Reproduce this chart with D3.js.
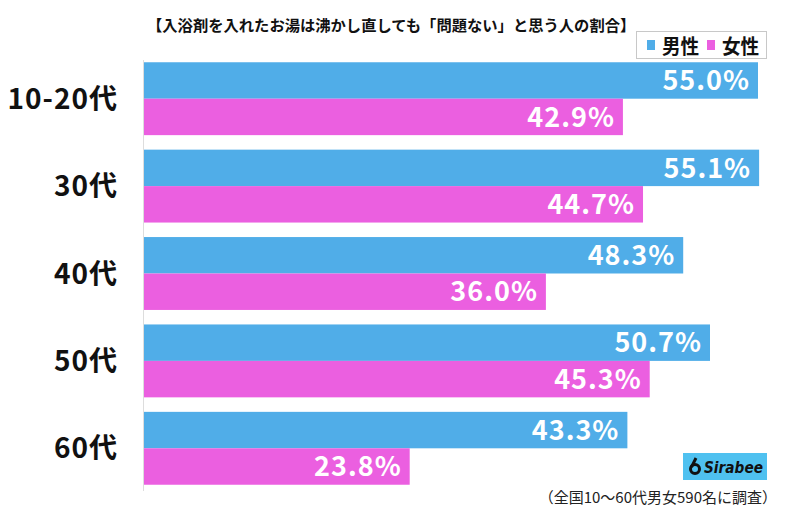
<!DOCTYPE html>
<meta charset="utf-8">
<style>
body { margin: 0; background: #fff; }
text { font-family: "Noto Sans CJK JP", "Noto Sans", sans-serif; }
.cat { font-weight: 700; font-size: 28px; fill: #111; }
.val { font-weight: 700; font-size: 27px; fill: #fff; }
</style>
<body>
<script src="https://cdn.jsdelivr.net/npm/d3@7"></script>
<script>

var width = 798,
    height = 508;

var categories = ["10-20代", "30代", "40代", "50代", "60代"];
var male = [55.0, 55.1, 48.3, 50.7, 43.3];
var female = [42.9, 44.7, 36.0, 45.3, 23.8];
var seriesNames = ["男性", "女性"];
var colors = ["#50ade8", "#eb5fe0"];

var svg = d3.select("body").append("svg")
    .attr("width", width)
    .attr("height", height);

var x = d3.scaleLinear().domain([0, 55]).range([144, 758]);

var y = d3.scaleBand()
    .domain(categories)
    .range([55, 492])
    .paddingInner(0.166)
    .paddingOuter(0.083);

var y1 = d3.scaleBand().domain([0, 1]).range([0, y.bandwidth()]);

// axis line
svg.append("line")
    .attr("x1", 143.5).attr("x2", 143.5)
    .attr("y1", 60).attr("y2", 491)
    .attr("stroke", "#ddd");

var rows = categories.map(function(c, i) {
  return { cat: c, vals: [male[i], female[i]] };
});

var g = svg.selectAll(".grp")
    .data(rows)
    .enter().append("g")
    .attr("class", "grp")
    .attr("transform", function(d) { return "translate(0," + y(d.cat) + ")"; });

g.append("text")
    .attr("class", "cat")
    .attr("x", 118)
    .attr("y", y.bandwidth() / 2)
    .attr("dy", "0.36em")
    .attr("text-anchor", "end")
    .attr("letter-spacing", "1px")
    .text(function(d) { return d.cat; });

var bar = g.selectAll(".bar")
    .data(function(d) { return d.vals; })
    .enter().append("g");

bar.append("rect")
    .attr("x", x(0))
    .attr("y", function(d, i) { return y1(i); })
    .attr("width", function(d) { return x(d) - x(0); })
    .attr("height", y1.bandwidth())
    .attr("fill", function(d, i) { return colors[i]; });

bar.append("text")
    .attr("class", "val")
    .attr("x", function(d) { return x(d) - 8; })
    .attr("y", function(d, i) { return y1(i) + y1.bandwidth() / 2; })
    .attr("dy", "0.36em")
    .attr("text-anchor", "end")
    .attr("letter-spacing", "1px")
    .text(function(d) { return d.toFixed(1) + "%"; });

// title
svg.append("text")
    .attr("x", 147)
    .attr("y", 26)
    .attr("dy", "0.35em")
    .style("font-size", "15.3px")
    .style("font-weight", 700)
    .attr("fill", "#111")
    .text("【入浴剤を入れたお湯は沸かし直しても「問題ない」と思う人の割合】");

// legend
var leg = svg.append("g");
leg.append("rect")
    .attr("x", 636.5).attr("y", 31.5)
    .attr("width", 130).attr("height", 27)
    .attr("fill", "#fff").attr("stroke", "#c8c8c8");
var legX = [647, 707];
seriesNames.forEach(function(s, i) {
  leg.append("rect")
      .attr("x", legX[i]).attr("y", 40)
      .attr("width", 8).attr("height", 10)
      .attr("fill", colors[i]);
  leg.append("text")
      .attr("transform", "translate(" + (legX[i] + 15) + ",47) scale(0.93,1)")
      .attr("dy", "0.36em")
      .style("font-size", "20px")
      .style("font-weight", 700)
      .attr("fill", "#111")
      .text(s);
});

// logo
var logo = svg.append("g");
logo.append("rect")
    .attr("x", 683).attr("y", 453)
    .attr("width", 84).attr("height", 27)
    .attr("fill", "#4fc1f0");
logo.append("circle")
    .attr("cx", 695).attr("cy", 469).attr("r", 4.5)
    .attr("fill", "none").attr("stroke", "#111").attr("stroke-width", 3);
logo.append("path")
    .attr("d", "M691.5,467 L696,458")
    .attr("stroke", "#111").attr("stroke-width", 3);
logo.append("text")
    .attr("x", 704).attr("y", 467)
    .attr("dy", "0.36em")
    .attr("textLength", 59)
    .attr("lengthAdjust", "spacingAndGlyphs")
    .style("font-size", "16px")
    .style("font-weight", 700)
    .style("font-style", "italic")
    .style("font-family", "'DejaVu Sans', sans-serif")
    .attr("fill", "#111")
    .text("Sirabee");

// note
svg.append("text")
    .attr("x", 777).attr("y", 498)
    .attr("dy", "0.36em")
    .attr("text-anchor", "end")
    .style("font-size", "15px")
    .attr("fill", "#222")
    .text("（全国10～60代男女590名に調査）");

</script>
